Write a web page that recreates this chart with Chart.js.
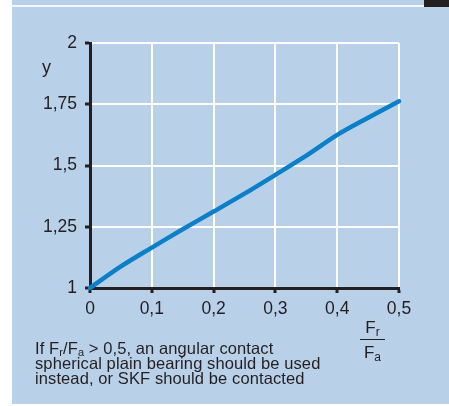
<!DOCTYPE html>
<html>
<head>
<meta charset="utf-8">
<script src="https://cdn.jsdelivr.net/npm/chart.js@4"></script>
<style>
  body { margin: 0; background: #fff; }
  #page { position: relative; width: 449px; height: 406px; overflow: hidden; background: #fff;
          font-family: "Liberation Sans", Arial, sans-serif; color: #231f20; }
  #panel { position: absolute; left: 12px; top: 0; width: 437px; height: 404px; background: #b9d0e9; }
  #topline { position: absolute; left: 12px; top: 5px; width: 437px; height: 2px; background: #f4f8fc; }
  #corner { position: absolute; left: 424px; top: 0; width: 25px; height: 7px; background: #231f20; }
  #chart { position: absolute; left: 0; top: 0; }
  #ylab { position: absolute; left: 42px; top: 57px; font-size: 18px; }
  #note { position: absolute; left: 35px; top: 341px; font-size: 16.5px; line-height: 15px; letter-spacing: 0.1px; }
  #note sub { font-size: 11px; vertical-align: -2px; line-height: 0; }
  #frac sub { font-size: 12px; vertical-align: -3px; line-height: 0; }
  #frac { position: absolute; left: 360px; top: 319px; width: 25px; text-align: center; font-size: 17px; line-height: 18px; }
  #frac .bar { height: 1px; background: #231f20; margin: 2px 0 4px 0; }
</style>
</head>
<body>
<div id="page">
  <div id="panel"></div>
  <div id="topline"></div>
  <div id="corner"></div>
  <canvas id="chart" width="449" height="406"></canvas>
  <div id="ylab">y</div>
  <div id="frac"><div>F<sub>r</sub></div><div class="bar"></div><div>F<sub>a</sub></div></div>
  <div id="note">If F<sub>r</sub>/F<sub>a</sub> &gt; 0,5, an angular contact<br>spherical plain bearing should be used<br>instead, or SKF should be contacted</div>
</div>
<script>
// curve: y against Fr/Fa
const ratio = [0, 0.05, 0.1, 0.15, 0.2, 0.25, 0.3, 0.35, 0.4, 0.45, 0.5];
const yFactor = [1, 1.088, 1.165, 1.24, 1.312, 1.385, 1.462, 1.54, 1.625, 1.695, 1.762];

const xTicks = [0, 0.1, 0.2, 0.3, 0.4, 0.5];
const xTickLabels = ['0', '0,1', '0,2', '0,3', '0,4', '0,5'];
const yTicks = [1, 1.25, 1.5, 1.75, 2];
const yTickLabels = ['1', '1,25', '1,5', '1,75', '2'];

const ink = '#231f20';
const tickFont = { family: '"Liberation Sans", Arial, sans-serif', size: 17.5 };

function labelFor(values, labels, v) {
    const i = values.findIndex(t => Math.abs(t - v) < 1e-6);
    return i >= 0 ? labels[i] : '';
}

new Chart(document.getElementById('chart'), {
    type: 'line',
    data: {
        datasets: [{
            data: ratio.map((x, i) => ({ x: x, y: yFactor[i] })),
            borderColor: '#0a80c8',
            borderWidth: 4.5,
            pointRadius: 0,
            tension: 0.3,
            borderCapStyle: 'round',
            clip: false
        }]
    },
    options: {
        responsive: false,
        animation: false,
        devicePixelRatio: 1,
        layout: { padding: { left: 0, top: 43, right: 50, bottom: 0 } },
        plugins: { legend: { display: false }, tooltip: { enabled: false } },
        scales: {
            x: {
                type: 'linear', min: 0, max: 0.5,
                afterFit: s => { s.height = 118; },
                afterBuildTicks: s => { s.ticks = xTicks.map(v => ({ value: v })); },
                ticks: {
                    color: ink, font: tickFont, padding: 6, maxRotation: 0,
                    callback: v => labelFor(xTicks, xTickLabels, v)
                },
                grid: { color: '#ffffff', lineWidth: 2, tickColor: ink, tickWidth: 3, tickLength: 5 },
                border: { color: ink, width: 3 }
            },
            y: {
                type: 'linear', min: 1, max: 2,
                afterFit: s => { s.width = 90; },
                afterBuildTicks: s => { s.ticks = yTicks.map(v => ({ value: v })); },
                ticks: {
                    color: ink, font: tickFont, padding: 8,
                    callback: v => labelFor(yTicks, yTickLabels, v)
                },
                grid: { color: '#ffffff', lineWidth: 2, tickColor: ink, tickWidth: 3, tickLength: 5 },
                border: { color: ink, width: 3 }
            }
        }
    }
});
</script>
</body>
</html>
